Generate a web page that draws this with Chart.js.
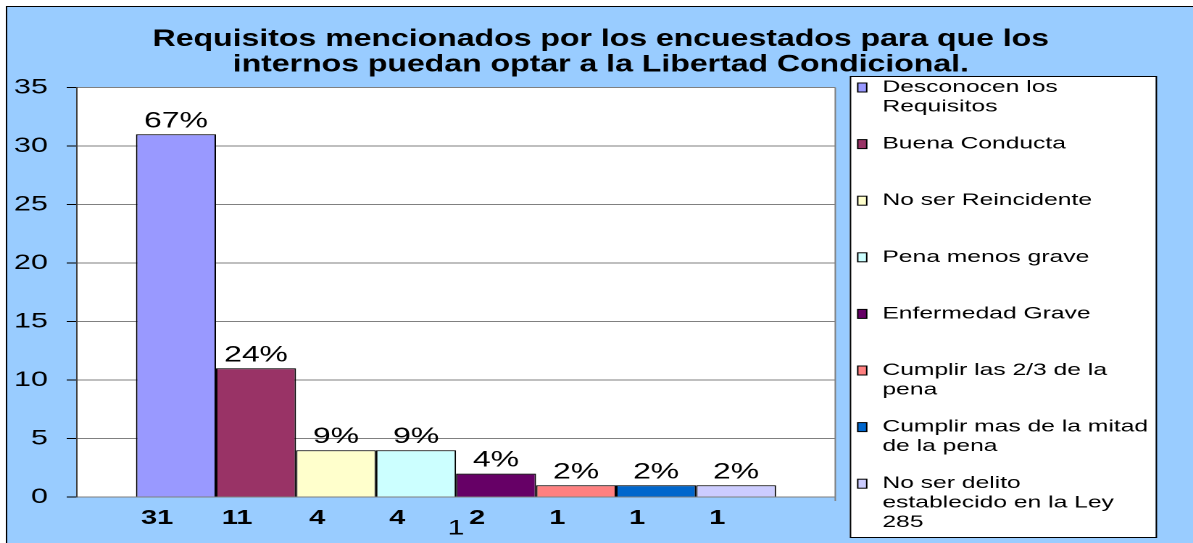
<!DOCTYPE html>
<html lang="es">
<head>
<meta charset="utf-8">
<title>Requisitos Libertad Condicional</title>
<script src="https://cdn.jsdelivr.net/npm/chart.js@4.4.1/dist/chart.umd.min.js"></script>
<style>
    html, body { margin: 0; padding: 0; background: #fff; overflow: hidden; }
    /* the original chart is stretched sideways, so draw narrow and widen it */
    #wrap { width: 823px; height: 543px; transform: scaleX(1.4496); transform-origin: 0 0; }
</style>
</head>
<body>
<div id="wrap"><canvas id="chart_requisitos" width="823" height="543"></canvas></div>
<script>
const titleLines = [
    'Requisitos mencionados por los encuestados para que los',
    'internos puedan optar a la Libertad Condicional.'
];
const categories = ['1'];
const seriesNames = [
    'Desconocen los Requisitos',
    'Buena Conducta',
    'No ser Reincidente',
    'Pena menos grave',
    'Enfermedad Grave',
    'Cumplir las 2/3 de la pena',
    'Cumplir mas de la mitad de la pena',
    'No ser delito establecido en la Ley 285'
];
// how the legend breaks each name
const legendLines = [
    ['Desconocen los', 'Requisitos'],
    ['Buena Conducta'],
    ['No ser Reincidente'],
    ['Pena menos grave'],
    ['Enfermedad Grave'],
    ['Cumplir las 2/3 de la', 'pena'],
    ['Cumplir mas de la mitad', 'de la pena'],
    ['No ser delito', 'establecido en la Ley', '285']
];
const seriesValues = [31, 11, 4, 4, 2, 1, 1, 1];
// percentages as printed on the chart (share of respondents)
const seriesPercents = [67, 24, 9, 9, 4, 2, 2, 2];
const seriesColors = ['#9999FF', '#993366', '#FFFFCC', '#CCFFFF', '#660066', '#FF8080', '#0066CC', '#CCCCFF'];
const yMin = 0;
const yMax = 35;
const yStep = 5;

const FONT = '"Liberation Sans", Arial, sans-serif';

const frameAndBackground = {
    id: 'frameAndBackground',
    beforeDraw(chart) {
        const { ctx, width, height, chartArea: a } = chart;
        ctx.save();
        ctx.fillStyle = '#fff';
        ctx.fillRect(0, 0, width, height);
        ctx.fillStyle = '#99CCFF';
        ctx.fillRect(5, 7, width - 5, height - 7);
        ctx.strokeStyle = '#000';
        ctx.lineWidth = 1;
        ctx.beginPath();
        ctx.moveTo(4.5, height);
        ctx.lineTo(4.5, 6.5);
        ctx.lineTo(width, 6.5);
        ctx.stroke();
        // white plot area
        ctx.fillStyle = '#fff';
        ctx.fillRect(a.left, a.top, a.right - a.left, a.bottom - a.top);
        ctx.restore();
    },
    afterDraw(chart) {
        const { ctx, width, chartArea: a } = chart;
        ctx.save();
        // right edge of plot area
        ctx.strokeStyle = '#808080';
        ctx.lineWidth = 1;
        ctx.beginPath();
        ctx.moveTo(a.right, a.top);
        ctx.lineTo(a.right, a.bottom + 4);
        ctx.stroke();

        // title
        ctx.fillStyle = '#000';
        ctx.font = 'bold 24px ' + FONT;
        ctx.textAlign = 'center';
        ctx.textBaseline = 'alphabetic';
        titleLines.forEach((line, i) => {
            ctx.save();
            ctx.translate(width / 2 + 3, 46 + i * 25.5);
            ctx.scale(0.92, 1);
            ctx.fillText(line, 0, 0);
            ctx.restore();
        });
        ctx.restore();
    }
};

const sideLegend = {
    id: 'sideLegend',
    afterDraw(chart) {
        const { ctx, chartArea: a } = chart;
        const left = a.right + 10;
        const boxW = 211;
        const top = 76;
        const bottom = 537;
        ctx.save();
        ctx.fillStyle = '#fff';
        ctx.fillRect(left, top, boxW, bottom - top);
        ctx.strokeStyle = '#000';
        ctx.lineWidth = 1;
        ctx.strokeRect(left + 0.5, top + 0.5, boxW, bottom - top);

        ctx.font = '17px ' + FONT;
        ctx.textAlign = 'left';
        ctx.textBaseline = 'alphabetic';
        chart.data.datasets.forEach((ds, i) => {
            const base = 92 + i * 56.6;
            ctx.fillStyle = ds.backgroundColor;
            ctx.fillRect(left + 5.5, base - 9, 6.2, 9);
            ctx.strokeStyle = '#000';
            ctx.strokeRect(left + 5.5, base - 9, 6.2, 9);
            ctx.fillStyle = '#000';
            legendLines[i].forEach((txt, j) => {
                ctx.fillText(txt, left + 22.5, base + j * 19.5);
            });
        });
        ctx.restore();
    }
};

const barLabels = {
    id: 'barLabels',
    afterDatasetsDraw(chart) {
        const { ctx, chartArea: a } = chart;
        ctx.save();
        ctx.fillStyle = '#000';
        ctx.textAlign = 'center';
        ctx.textBaseline = 'alphabetic';
        chart.data.datasets.forEach((ds, i) => {
            const bar = chart.getDatasetMeta(i).data[0];
            ctx.font = '22px ' + FONT;
            ctx.fillText(seriesPercents[i] + '%', bar.x, bar.y - 7);
            ctx.font = 'bold 20px ' + FONT;
            ctx.fillText(String(ds.data[0]), bar.x - 13, a.bottom + 27);
        });
        ctx.restore();
    }
};

const datasets = seriesNames.map((name, i) => ({
    label: name,
    data: [seriesValues[i]],
    backgroundColor: seriesColors[i],
    borderColor: '#000',
    borderWidth: 1,
    categoryPercentage: 0.844,
    barPercentage: 1
}));

new Chart(document.getElementById('chart_requisitos'), {
    type: 'bar',
    data: { labels: categories, datasets: datasets },
    plugins: [frameAndBackground, barLabels, sideLegend],
    options: {
        responsive: false,
        animation: false,
        devicePixelRatio: 2,
        layout: { padding: { top: 87.5, right: 246.8, bottom: 0, left: 0 } },
        plugins: {
            legend: { display: false },
            tooltip: { enabled: false },
            title: { display: false }
        },
        scales: {
            x: {
                grid: { display: false, drawTicks: false },
                border: { display: false },
                ticks: { color: '#000', font: { family: FONT, size: 21 }, padding: 19, maxRotation: 0 },
                afterFit(scale) { scale.height = 46; }
            },
            y: {
                min: yMin,
                max: yMax,
                ticks: { stepSize: yStep, color: '#000', font: { family: FONT, size: 21 }, padding: 13 },
                grid: { color: '#808080', tickColor: '#000', tickLength: 7 },
                border: { color: '#404040' },
                afterFit(scale) { scale.width = 53; }
            }
        }
    }
});
</script>
</body>
</html>
